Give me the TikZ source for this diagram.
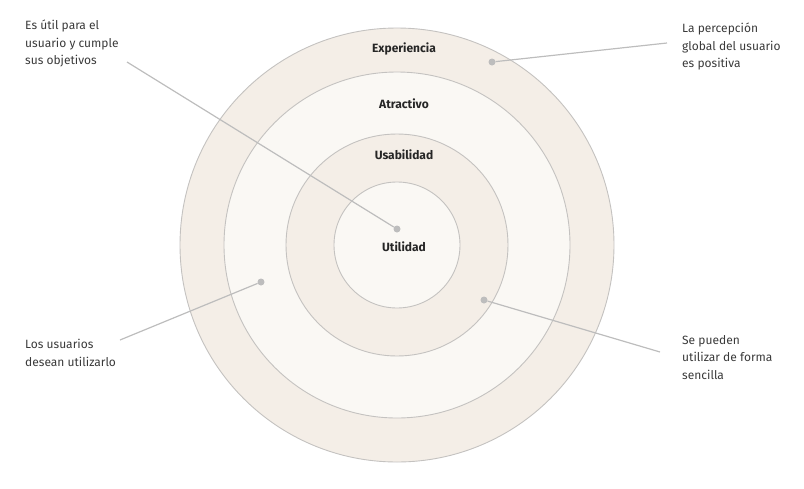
\documentclass[tikz,border=0pt]{standalone}
\usepackage{fontspec}
\setmainfont{Fira Sans}
\usetikzlibrary{calc}
\definecolor{ringdark}{HTML}{F4EEE7}
\definecolor{ringlight}{HTML}{FAF8F4}
\definecolor{edgegray}{HTML}{C4C2C0}
\definecolor{leadgray}{HTML}{BDBDBD}
\definecolor{notegray}{HTML}{3A3A3A}
\newcommand{\drawLayer}[2]{% radius, fill
  \draw[fill=#2,draw=edgegray,line width=0.9pt] (397,245) circle (#1);
}

\begin{document}
\begin{tikzpicture}[x=1pt,y=-1pt,
  note/.style={align=left,inner sep=0pt,text=notegray,font=\fontsize{12}{17.5}\selectfont},
  layername/.style={inner sep=0pt,text=black!85,font=\bfseries\fontsize{12}{15}\selectfont},
  dot/.style={circle,fill=leadgray,inner sep=0pt,minimum size=7pt},
  lead/.style={draw=leadgray,line width=1.2pt}]
\useasboundingbox (0,0) rectangle (804,488);

% Layers, outside in
\drawLayer{217pt}{ringdark}
\drawLayer{173pt}{ringlight}
\drawLayer{111pt}{ringdark}
\drawLayer{63pt}{ringlight}

% Layer names
\node[layername] (experiencia) at (404,49) {Experiencia};
\node[layername] (atractivo) at (404,104) {Atractivo};
\node[layername] (usabilidad) at (404,155) {Usabilidad};
\node[layername] (utilidad) at (404,247) {Utilidad};

% Notes
\node[note,anchor=north west] (noteutil) at (25,20) {Es útil para el\\usuario y cumple\\sus objetivos};
\node[note,anchor=north west] (noteexp) at (682,23) {La percepción\\global del usuario\\es positiva};
\node[note,anchor=north west] (noteatr) at (25,339) {Los usuarios\\desean utilizarlo};
\node[note,anchor=north west] (noteusa) at (682,335) {Se pueden\\utilizar de forma\\sencilla};

% Leader dots
\node[dot] (dotutil) at (397,229) {};
\node[dot] (dotexp) at (492,62) {};
\node[dot] (dotatr) at (261,282) {};
\node[dot] (dotusa) at (484,300) {};

% Leader lines
\coordinate (endutil) at (127,62);
\coordinate (endexp) at (667,43);
\coordinate (endatr) at (120,340);
\coordinate (endusa) at (660,352);
\draw[lead] (endutil) -- (dotutil);
\draw[lead] (endexp) -- (dotexp);
\draw[lead] (endatr) -- (dotatr);
\draw[lead] (endusa) -- (dotusa);
\end{tikzpicture}
\end{document}
